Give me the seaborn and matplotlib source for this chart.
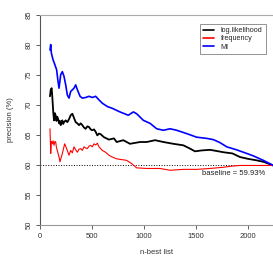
import numpy as np
import pandas as pd
import matplotlib
matplotlib.use("Agg")
import matplotlib.pyplot as plt
import seaborn as sns

# values
ll_x = [96, 103, 112, 118, 128, 135, 143, 151, 158, 166, 175, 183, 191, 199, 207, 215, 223, 231,
        247, 263, 279, 295, 311, 327, 343, 359, 375, 391, 407, 423, 439, 455, 471, 487, 503, 519,
        535, 551, 567, 583, 615, 663, 711, 737, 801, 865, 962, 1026, 1106, 1186, 1282, 1378,
        1442, 1490, 1555, 1635, 1700, 1763, 1850, 1923, 2000, 2083, 2150, 2211, 2240]
ll_y = [71.4, 72.5, 72.75, 71.4, 68.6, 67.4, 68.6, 68.2, 67.3, 68.0, 67.6, 66.9, 67.3, 66.6,
        67.2, 67.4, 66.8, 67.1, 67.4, 67.1, 67.6, 68.25, 68.5, 67.8, 67.1, 66.9, 66.6, 66.9,
        66.6, 66.2, 66.0, 66.4, 66.3, 65.9, 65.75, 65.9, 65.5, 64.9, 65.2, 65.1, 64.6, 64.2,
        64.4, 63.8, 64.1, 63.5, 63.8, 63.8, 64.1, 63.8, 63.5, 63.25, 62.7, 62.25, 62.4, 62.5,
        62.3, 62.1, 61.9, 61.3, 61.0, 60.75, 60.5, 60.1, 59.9]

freq_x = [96, 103, 110, 118, 126, 135, 143, 151, 158, 166, 183, 192, 203, 215, 237, 256, 279,
          295, 311, 327, 343, 359, 375, 391, 407, 423, 439, 455, 471, 487, 503, 519, 535, 551,
          567, 599, 631, 663, 695, 737, 833, 882, 929, 1026, 1154, 1250, 1378, 1506, 1635,
          1763, 1850, 1923, 2083, 2240]
freq_y = [66.0, 61.9, 63.9, 63.5, 64.0, 63.25, 63.9, 63.8, 62.9, 62.4, 61.3, 60.5, 61.2, 61.9,
          63.5, 62.7, 61.6, 62.4, 62.0, 63.0, 62.5, 62.1, 62.6, 62.7, 62.4, 63.0, 62.8, 62.7,
          63.1, 63.25, 63.0, 63.5, 63.3, 63.6, 63.0, 62.4, 62.1, 61.6, 61.3, 61.0, 60.75,
          60.2, 59.5, 59.4, 59.4, 59.1, 59.25, 59.25, 59.4, 59.6, 59.8, 59.9, 59.9, 59.9]

mi_x = [96, 103, 109, 125, 144, 160, 173, 183, 199, 215, 231, 247, 263, 279, 295, 327, 343, 359,
        385, 407, 439, 471, 503, 535, 567, 599, 647, 695, 769, 849, 897, 929, 994, 1058, 1122,
        1186, 1250, 1314, 1410, 1506, 1603, 1666, 1730, 1795, 1890, 1987, 2050, 2147, 2243]
mi_y = [79.1, 80.0, 78.6, 77.5, 76.6, 75.8, 73.9, 72.75, 75.0, 75.5, 74.7, 73.3, 71.6, 71.1,
        72.2, 72.75, 73.3, 72.5, 71.4, 71.1, 71.2, 71.4, 71.2, 71.4, 70.8, 70.25, 69.7, 69.4,
        68.8, 68.25, 68.8, 68.5, 67.4, 66.9, 66.0, 65.75, 66.0, 65.75, 65.2, 64.6, 64.4, 64.2,
        63.7, 63.0, 62.5, 61.9, 61.5, 60.75, 59.9]

labels = ["log.likelihood", "frequency", "MI"]
colors = ["black", "red", "blue"]
baseline = 59.93

df = pd.concat([
    pd.DataFrame({"n": ll_x, "precision": ll_y, "measure": labels[0]}),
    pd.DataFrame({"n": freq_x, "precision": freq_y, "measure": labels[1]}),
    pd.DataFrame({"n": mi_x, "precision": mi_y, "measure": labels[2]}),
])

sns.set_style("white")
plt.rcParams["font.family"] = ["Liberation Sans", "DejaVu Sans"]
plt.rcParams["font.size"] = 5.5

fig = plt.figure(figsize=(2.73, 2.56), dpi=100)
ax = fig.add_axes([40 / 273, 1 - 225 / 256, 233 / 273, (225 - 14.5) / 256])

sns.lineplot(data=df, x="n", y="precision", hue="measure", hue_order=labels,
             palette=colors, estimator=None, sort=False, ax=ax, legend=False)
for line, lw in zip(ax.lines, [1.3, 0.8, 1.2]):
    line.set_linewidth(lw)

ax.axhline(baseline, color="black", linestyle=":", linewidth=0.7, zorder=0)
ax.text(2163, 58.6, f"baseline = {baseline:.2f}%", ha="right", va="center", fontsize=5.5,
        color="#222")

ax.set_xlim(0, 2240)
ax.set_ylim(50, 85)
ax.set_xticks([0, 500, 1000, 1500, 2000])
ax.set_yticks(np.arange(50, 86, 5))
ax.tick_params(axis="both", direction="out", length=3, width=0.6, color="#444",
               labelsize=5.5, labelcolor="#333", left=True, bottom=True)
ax.tick_params(axis="y", pad=2)
ax.tick_params(axis="x", pad=3)
for lbl in ax.get_yticklabels():
    lbl.set_rotation(90)
    lbl.set_va("center")
ax.set_xlabel("n-best list", fontsize=5.5, labelpad=6, color="#333")
ax.set_ylabel("precision (%)", fontsize=5.5, labelpad=9, color="#333")

ax.spines["right"].set_visible(False)
ax.spines["left"].set_color("#555")
ax.spines["top"].set_color("#aaa")
ax.spines["bottom"].set_color("#999")
for s in ax.spines.values():
    s.set_linewidth(0.8)

handles = [plt.Line2D([], [], color=c, lw=1.2) for c in colors]
leg = ax.legend(handles, labels, loc="upper left", bbox_to_anchor=(0.687, 0.955),
                fontsize=5.2, frameon=True, fancybox=False, edgecolor="#777",
                handlelength=1.5, handletextpad=0.9, labelspacing=0.15,
                borderpad=0.45, borderaxespad=0)
leg.get_frame().set_linewidth(0.7)

fig.savefig("out.png", dpi=100)
